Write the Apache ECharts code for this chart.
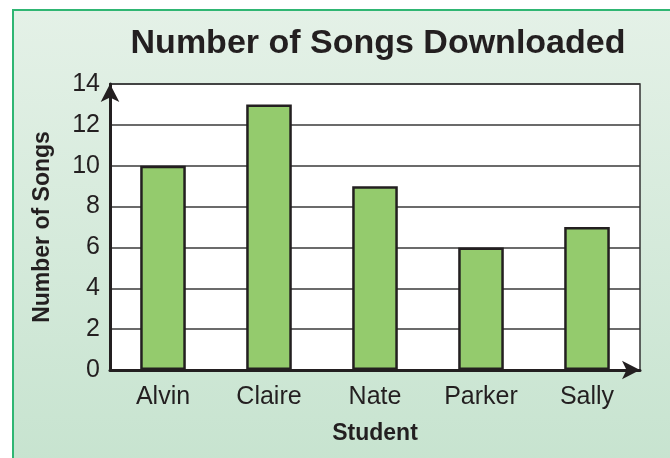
<!DOCTYPE html>
<html>
<head>
<meta charset="utf-8">
<script src="https://cdn.jsdelivr.net/npm/echarts@6/dist/echarts.min.js"></script>
<style>
  html, body { margin: 0; padding: 0; background: #fff; overflow: hidden; }
  .frame {
    position: absolute; left: 12px; top: 9px; width: 700px; height: 500px;
    border: 2px solid #2fb673;
    background: linear-gradient(to bottom, #e4f1e7 0%, #c4e2cd 100%);
  }
  #chart { position: absolute; left: 0; top: 0; width: 670px; height: 458px; }
</style>
</head>
<body>
<div class="frame"></div>
<div id="chart"></div>
<script>
const students = ['Alvin', 'Claire', 'Nate', 'Parker', 'Sally']
const songs = [10, 13, 9, 6, 7]
const yMin = 0
const yMax = 14
const yStep = 2

const font = '"Liberation Sans", sans-serif'
const ink = '#231f20'

const chart = echarts.init(document.getElementById('chart'))
chart.setOption({
  animation: false,
  title: {
    text: 'Number of Songs Downloaded',
    left: 373,
    textAlign: 'center',
    top: 22,
    textStyle: { fontFamily: font, fontSize: 34, fontWeight: 'bold', color: ink }
  },
  grid: {
    left: 110, right: 30, top: 84, bottom: 88,
    show: true, backgroundColor: '#fff', borderColor: '#333', borderWidth: 1.5
  },
  xAxis: {
    type: 'category',
    data: students,
    name: 'Student',
    nameLocation: 'middle',
    nameGap: 52,
    nameTextStyle: { fontFamily: font, fontSize: 23, fontWeight: 'bold', color: ink },
    axisLine: { show: true, symbol: ['none', 'arrow'], symbolSize: [14, 18], lineStyle: { color: ink, width: 3 } },
    axisTick: { show: false },
    axisLabel: { fontFamily: font, fontSize: 25, color: ink, margin: 15 }
  },
  yAxis: {
    type: 'value',
    min: yMin, max: yMax, interval: yStep,
    name: 'Number of Songs',
    nameLocation: 'middle',
    nameGap: 56,
    nameTextStyle: { fontFamily: font, fontSize: 23, fontWeight: 'bold', color: ink },
    axisLine: { show: true, symbol: ['none', 'arrow'], symbolSize: [14, 18], lineStyle: { color: ink, width: 3 } },
    axisTick: { show: false },
    axisLabel: { fontFamily: font, fontSize: 25, color: ink, margin: 10 },
    splitLine: { show: true, lineStyle: { color: '#3a3a3a', width: 1.5 } }
  },
  series: [{
    type: 'bar',
    data: songs,
    barWidth: '43%',
    itemStyle: { color: '#94cb6d', borderColor: ink, borderWidth: 2.5 }
  }]
})
</script>
</body>
</html>
